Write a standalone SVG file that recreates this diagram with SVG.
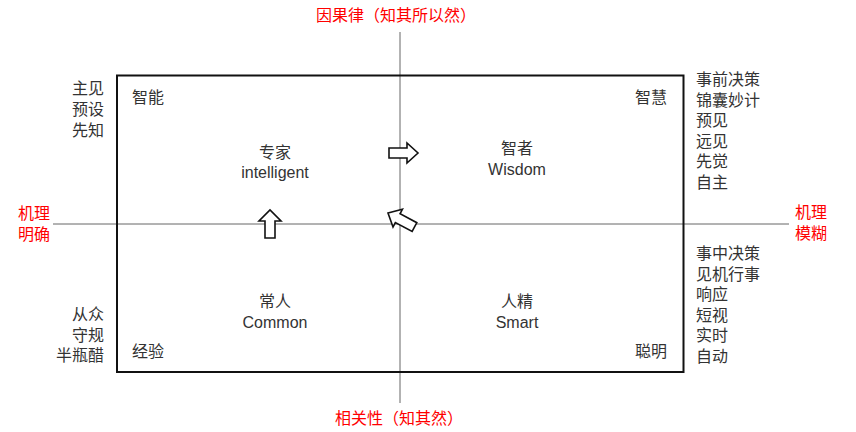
<svg xmlns="http://www.w3.org/2000/svg" width="856" height="432" viewBox="0 0 856 432">
<style>
text{font-family:"Liberation Sans","Noto Sans CJK SC",sans-serif;font-size:16px;fill:#333}
.red{fill:#ff0000}
.c{text-anchor:middle}
.r{text-anchor:end}
.axis{stroke:#666;stroke-width:1;fill:none}
.box{stroke:#111;stroke-width:2;fill:none}
.arr{fill:#fff;stroke:#111;stroke-width:1.6;stroke-linejoin:miter}
</style>
<rect width="856" height="432" fill="#fff"/>
<g id="axes">
<line class="axis" x1="53" y1="224" x2="789" y2="224"/>
<line class="axis" x1="400" y1="32" x2="400" y2="403"/>
</g>
<g id="frame"><rect class="box" x="117" y="75.5" width="566.5" height="296.5"/></g>
<g id="axis-labels">
<text class="red c" x="396" y="21">因果律（知其所以然）</text>
<text class="red c" x="399" y="424">相关性（知其然）</text>
<text class="red" x="18" y="219">机理</text>
<text class="red" x="18" y="240">明确</text>
<text class="red" x="795" y="218">机理</text>
<text class="red" x="795" y="239">模糊</text>
</g>
<g id="side-left">
<text class="r" x="104" y="94">主见</text>
<text class="r" x="104" y="115">预设</text>
<text class="r" x="104" y="135.5">先知</text>
<text class="r" x="104" y="320">从众</text>
<text class="r" x="104" y="341">守规</text>
<text class="r" x="104" y="361">半瓶醋</text>
</g>
<g id="side-right">
<text x="696" y="85">事前决策</text>
<text x="696" y="105.5">锦囊妙计</text>
<text x="696" y="126">预见</text>
<text x="696" y="146.5">远见</text>
<text x="696" y="167">先觉</text>
<text x="696" y="187.5">自主</text>
<text x="696" y="259">事中决策</text>
<text x="696" y="279.5">见机行事</text>
<text x="696" y="300">响应</text>
<text x="696" y="320.5">短视</text>
<text x="696" y="341">实时</text>
<text x="696" y="361.5">自动</text>
</g>
<g id="corners">
<text x="132" y="103">智能</text>
<text x="635" y="103">智慧</text>
<text x="132" y="357">经验</text>
<text x="635" y="357">聪明</text>
</g>
<g id="n-expert"><text class="c" x="275" y="158">专家</text><text class="c" x="275" y="178">intelligent</text></g>
<g id="n-wisdom"><text class="c" x="517" y="154">智者</text><text class="c" x="517" y="175">Wisdom</text></g>
<g id="n-common"><text class="c" x="275" y="307">常人</text><text class="c" x="275" y="328">Common</text></g>
<g id="n-smart"><text class="c" x="517" y="307">人精</text><text class="c" x="517" y="328">Smart</text></g>
<g id="connectors">
<polygon class="arr" points="389,148 407,148 407,143 418,153 407,163 407,158 389,158"/>
<polygon class="arr" points="265,238 265,221 259,221 270,210 281,221 275,221 275,238"/>
<polygon class="arr" transform="translate(388,213) rotate(28)" points="0,0 11,-10 11,-5 30,-5 30,5 11,5 11,10"/>
</g>
</svg>
